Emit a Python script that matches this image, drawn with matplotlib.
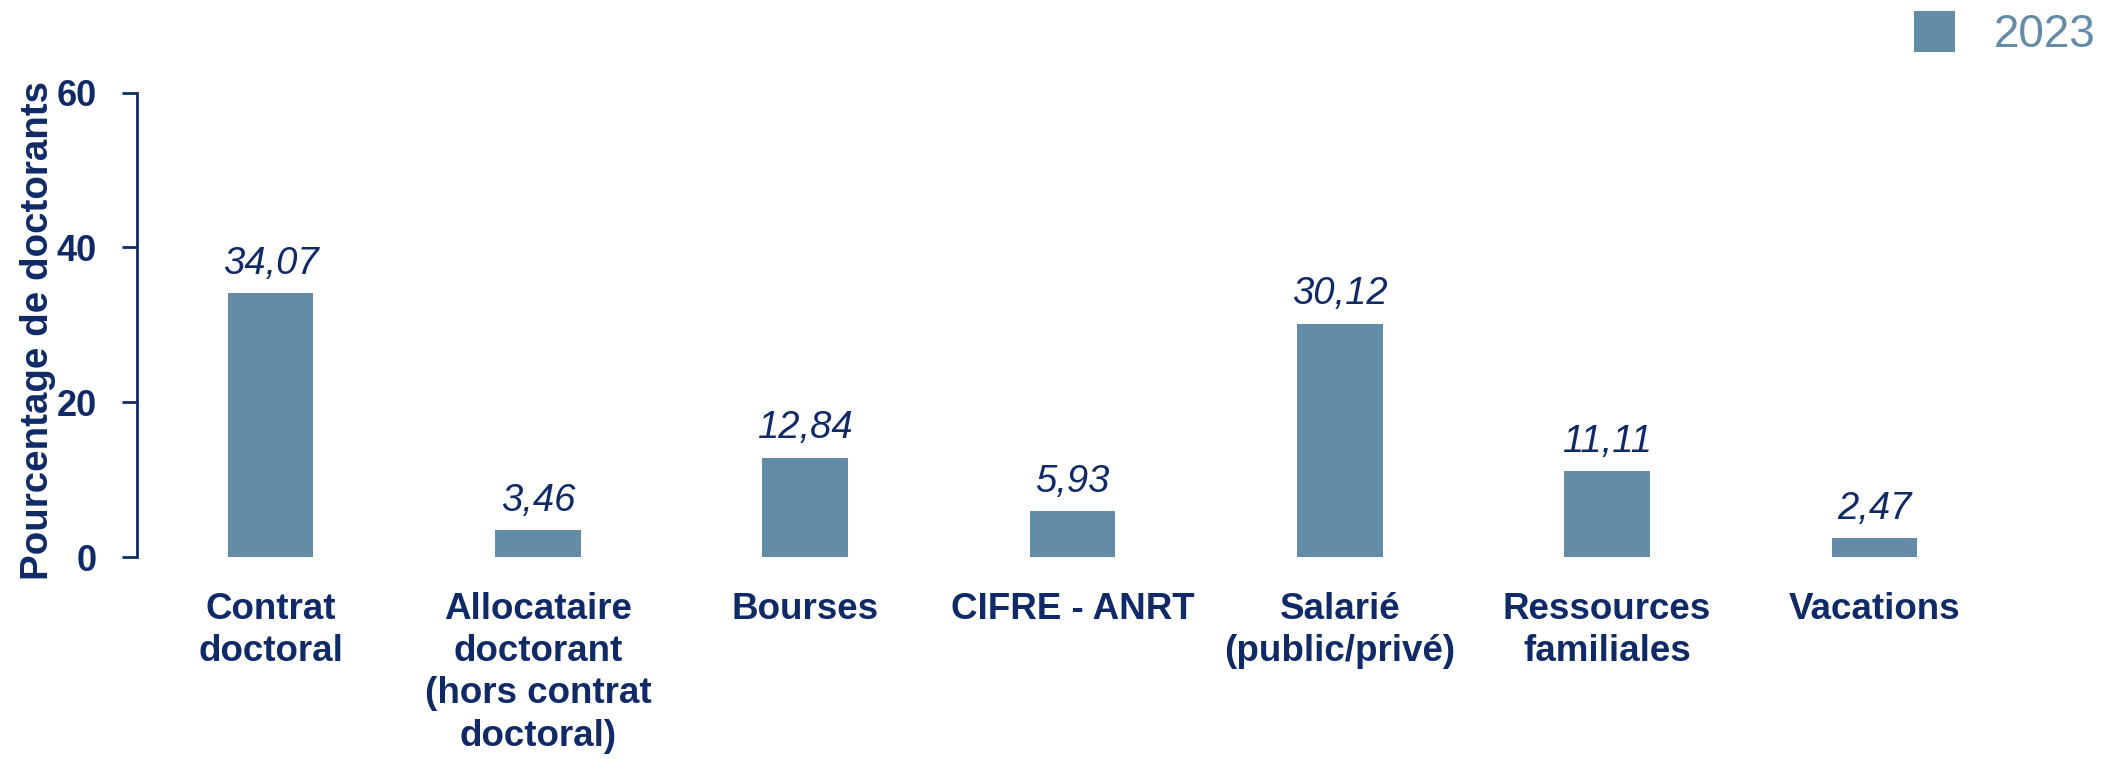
import numpy as np
from matplotlib import pyplot as plt
from matplotlib import rc

rc('font', family=['Liberation Sans', 'DejaVu Sans'])

navy = '#0f2a66'
blue = '#648ca6'

categories = ['Contrat\ndoctoral', 'Allocataire\ndoctorant\n(hors contrat\ndoctoral)',
              'Bourses', 'CIFRE - ANRT', 'Salarié\n(public/privé)',
              'Ressources\nfamiliales', 'Vacations']
values = [34.07, 3.46, 12.84, 5.93, 30.12, 11.11, 2.47]
series = '2023'
yticks = [0, 20, 40, 60]

fig = plt.figure(figsize=(21.26, 7.59), dpi=100)
ax = fig.add_axes([0.0644, 0.266, 0.8801, 0.612])

x = np.arange(len(values))
bars = ax.bar(x, values, width=0.32, color=blue, label=series)

for xi, v in zip(x, values):
    ax.annotate(f'{v:.2f}'.replace('.', ','), (xi, v), xytext=(0, 14),
                textcoords='offset points', ha='center', va='baseline',
                fontsize=27.5, fontstyle='italic', color=navy)

ax.set_xlim(-0.5, len(values) - 0.5)
ax.set_ylim(0, 60)
ax.set_yticks(yticks)
ax.set_xticks(x)
ax.set_xticklabels(categories, fontsize=26.5, fontweight='bold', color=navy,
                   linespacing=1.27)
ax.tick_params(axis='x', length=0, pad=25)
ax.tick_params(axis='y', length=11, width=2, color=navy, pad=18,
               labelsize=26, labelcolor=navy)
for lab in ax.get_yticklabels():
    lab.set_fontweight('bold')

for s in ['top', 'right', 'bottom']:
    ax.spines[s].set_visible(False)
ax.spines['left'].set_color(navy)
ax.spines['left'].set_linewidth(2)

ax.set_ylabel('Pourcentage de doctorants', fontsize=27.7, fontweight='bold',
              color=navy)
ax.yaxis.set_label_coords(-0.043, 0.487)

fig.legend(handles=[bars], labels=[series], loc='upper right',
           bbox_to_anchor=(0.988, 0.992), frameon=False, fontsize=33,
           handlelength=0.9, handleheight=1.0, handletextpad=0.85,
           labelcolor=blue, borderpad=0.1, borderaxespad=0)

plt.savefig('out.png')
